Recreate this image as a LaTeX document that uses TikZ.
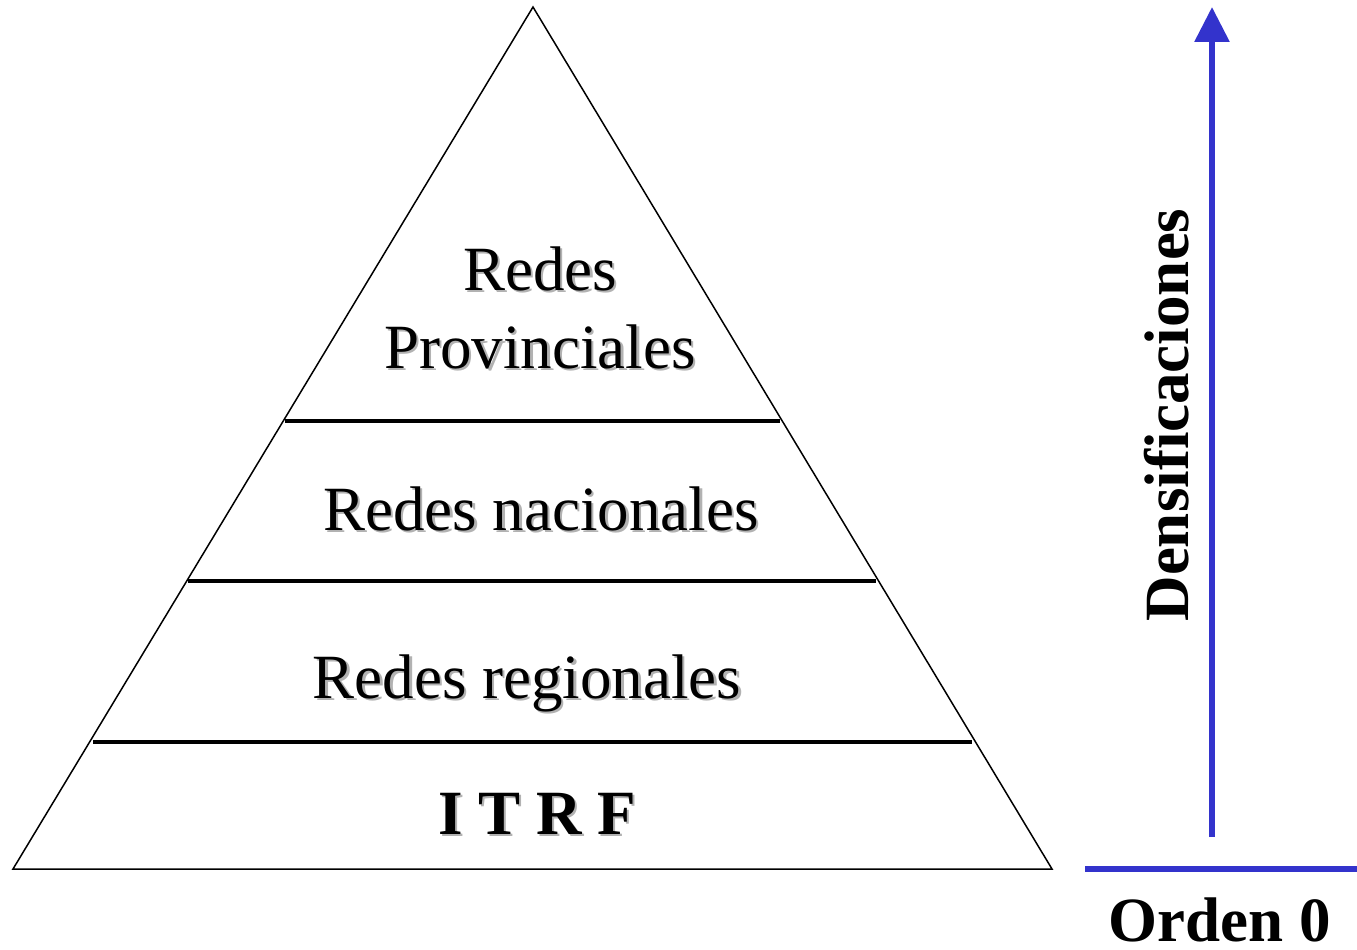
\documentclass[tikz,border=0pt]{standalone}
\usepackage{fontspec}
\setmainfont{Liberation Serif}
\usetikzlibrary{arrows.meta}
\definecolor{shgray}{RGB}{178,178,178}
\definecolor{arrblue}{RGB}{51,51,204}
\newcommand\shtext[1]{\leavevmode\rlap{\kern2.5pt\raisebox{-2.5pt}{\color{shgray}#1}}#1}
\tikzset{
  lbl/.style={anchor=base, inner sep=0pt, font=\fontsize{63}{78}\selectfont},
  boldlbl/.style={anchor=base, inner sep=0pt, font=\fontsize{63}{78}\selectfont\bfseries},
  edge/.style={line width=1.5pt, line join=miter},
  divider/.style={line width=4.5pt},
  blueline/.style={draw=arrblue, line width=6pt},
}
\begin{document}
\begin{tikzpicture}[x=1pt,y=-1pt]
\useasboundingbox (0,0) rectangle (1357,950);
% pyramid
\coordinate (apex) at (533,7);
\coordinate (bl) at (13,869);
\coordinate (br) at (1052,869);
\draw[edge] (apex) -- (bl) -- (br) -- cycle;
% dividers
\coordinate (d1l) at (285,421); \coordinate (d1r) at (780,421);
\coordinate (d2l) at (188,581); \coordinate (d2r) at (876,581);
\coordinate (d3l) at (93,742);  \coordinate (d3r) at (972,742);
\draw[divider] (d1l) -- (d1r);
\draw[divider] (d2l) -- (d2r);
\draw[divider] (d3l) -- (d3r);
% labels
\node[lbl] (prov1) at (540,290) {\shtext{Redes}};
\node[lbl] (prov2) at (540,368) {\shtext{Provinciales}};
\node[lbl] (nac) at (541,530) {\shtext{Redes nacionales}};
\node[lbl] (reg) at (527,698) {\shtext{Redes regionales}};
\node[boldlbl] (itrf) at (537,834) {\shtext{I T R F}};
% arrow and base
\coordinate (arrS) at (1212,837);
\coordinate (arrE) at (1212,7);
\draw[blueline, -{Triangle[width=34pt,length=35pt]}, arrblue] (arrS) -- (arrE);
\coordinate (baseL) at (1085,869);
\coordinate (baseR) at (1357,869);
\draw[blueline] (baseL) -- (baseR);
\node[boldlbl, rotate=90] (dens) at (1188,415) {Densificaciones};
\node[boldlbl] (orden) at (1220,941) {Orden 0};
\end{tikzpicture}
\end{document}
